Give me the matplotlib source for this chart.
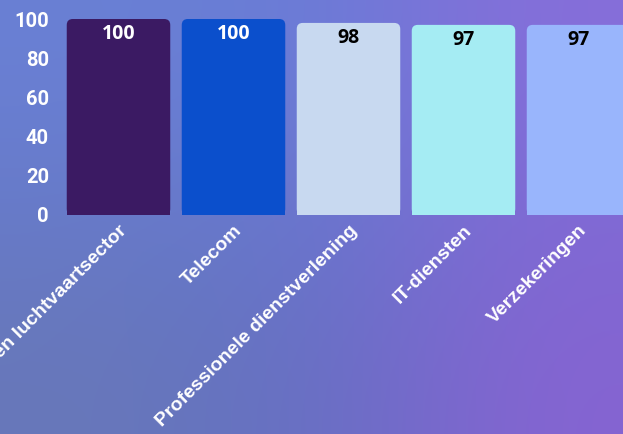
import matplotlib.pyplot as plt
import matplotlib.transforms as mtransforms
import numpy as np
from matplotlib.patches import FancyBboxPatch, Rectangle

# data
sectors = [
    "Ruimtevaart- en luchtvaartsector",
    "Telecom",
    "Professionele dienstverlening",
    "IT-diensten",
    "Verzekeringen",
]
scores = [100, 100, 98, 97, 97]
bar_colors = ["#3b1a63", "#0b4fcc", "#c8d9f0", "#a5ecf3", "#99b5fc"]
label_colors = ["white", "white", "black", "black", "black"]
yticks = [0, 20, 40, 60, 80, 100]

W, H = 623, 434
fig = plt.figure(figsize=(W / 100, H / 100), dpi=100)

# gradient background
bg = fig.add_axes([0, 0, 1, 1], zorder=0)
grid = np.array([
    [[106, 128, 212], [104, 125, 215], [135, 110, 218]],
    [[103, 122, 200], [102, 118, 205], [128, 105, 212]],
    [[104, 120, 185], [100, 112, 195], [134, 100, 210]],
]) / 255.0
bg.imshow(grid, aspect="auto", interpolation="bicubic", extent=[0, 1, 0, 1])
bg.axis("off")

# axes placed in pixels: x from 60 to 623, baseline y=215, top y=19
left_px, right_px = 60, 623
top_px, base_px = 19, 215
ax = fig.add_axes([left_px / W, (H - base_px) / H,
                   (right_px - left_px) / W, (base_px - top_px) / H], zorder=1)
ax.patch.set_alpha(0)

step_px = 115.0
c0 = 118.5
ax.set_xlim((left_px - c0) / step_px, (right_px - c0) / step_px)
ax.set_ylim(0, 100)

x = np.arange(len(sectors))
width = 0.9
radius_px = 6
rx = radius_px / step_px
ry_per_px = 100 / (base_px - top_px)
aspect = ry_per_px / (1 / step_px)

for xi, v, col, lc in zip(x, scores, bar_colors, label_colors):
    box = FancyBboxPatch((xi - width / 2, 0), width, v,
                         boxstyle=f"round,pad=0,rounding_size={rx}",
                         mutation_aspect=aspect, fc=col, ec="none",
                         clip_on=False)
    ax.add_patch(box)
    ax.add_patch(Rectangle((xi - width / 2, 0), width, v / 2, fc=col,
                           ec="none", clip_on=False))
    ax.text(xi, v - 7.5, str(v), ha="center", va="center", color=lc,
            fontsize=14, fontweight="bold", family="Open Sans", clip_on=False)

ax.set_xticks(x)
ax.set_xticklabels(sectors, rotation=45, ha="right", rotation_mode="anchor",
                   color="white", fontsize=14, fontweight="bold",
                   family="Liberation Sans")
shift = mtransforms.ScaledTranslation(4 / 100, 0, fig.dpi_scale_trans)
for lbl in ax.get_xticklabels():
    lbl.set_transform(lbl.get_transform() + shift)
ax.set_yticks(yticks)
ax.set_yticklabels([str(t) for t in yticks], color="white", fontsize=14.5,
                   fontweight="bold", family="Roboto")
ax.tick_params(length=0, axis="y", pad=8)
ax.tick_params(length=0, axis="x", pad=5)
for s in ax.spines.values():
    s.set_visible(False)

fig.savefig("out.png", dpi=100)
